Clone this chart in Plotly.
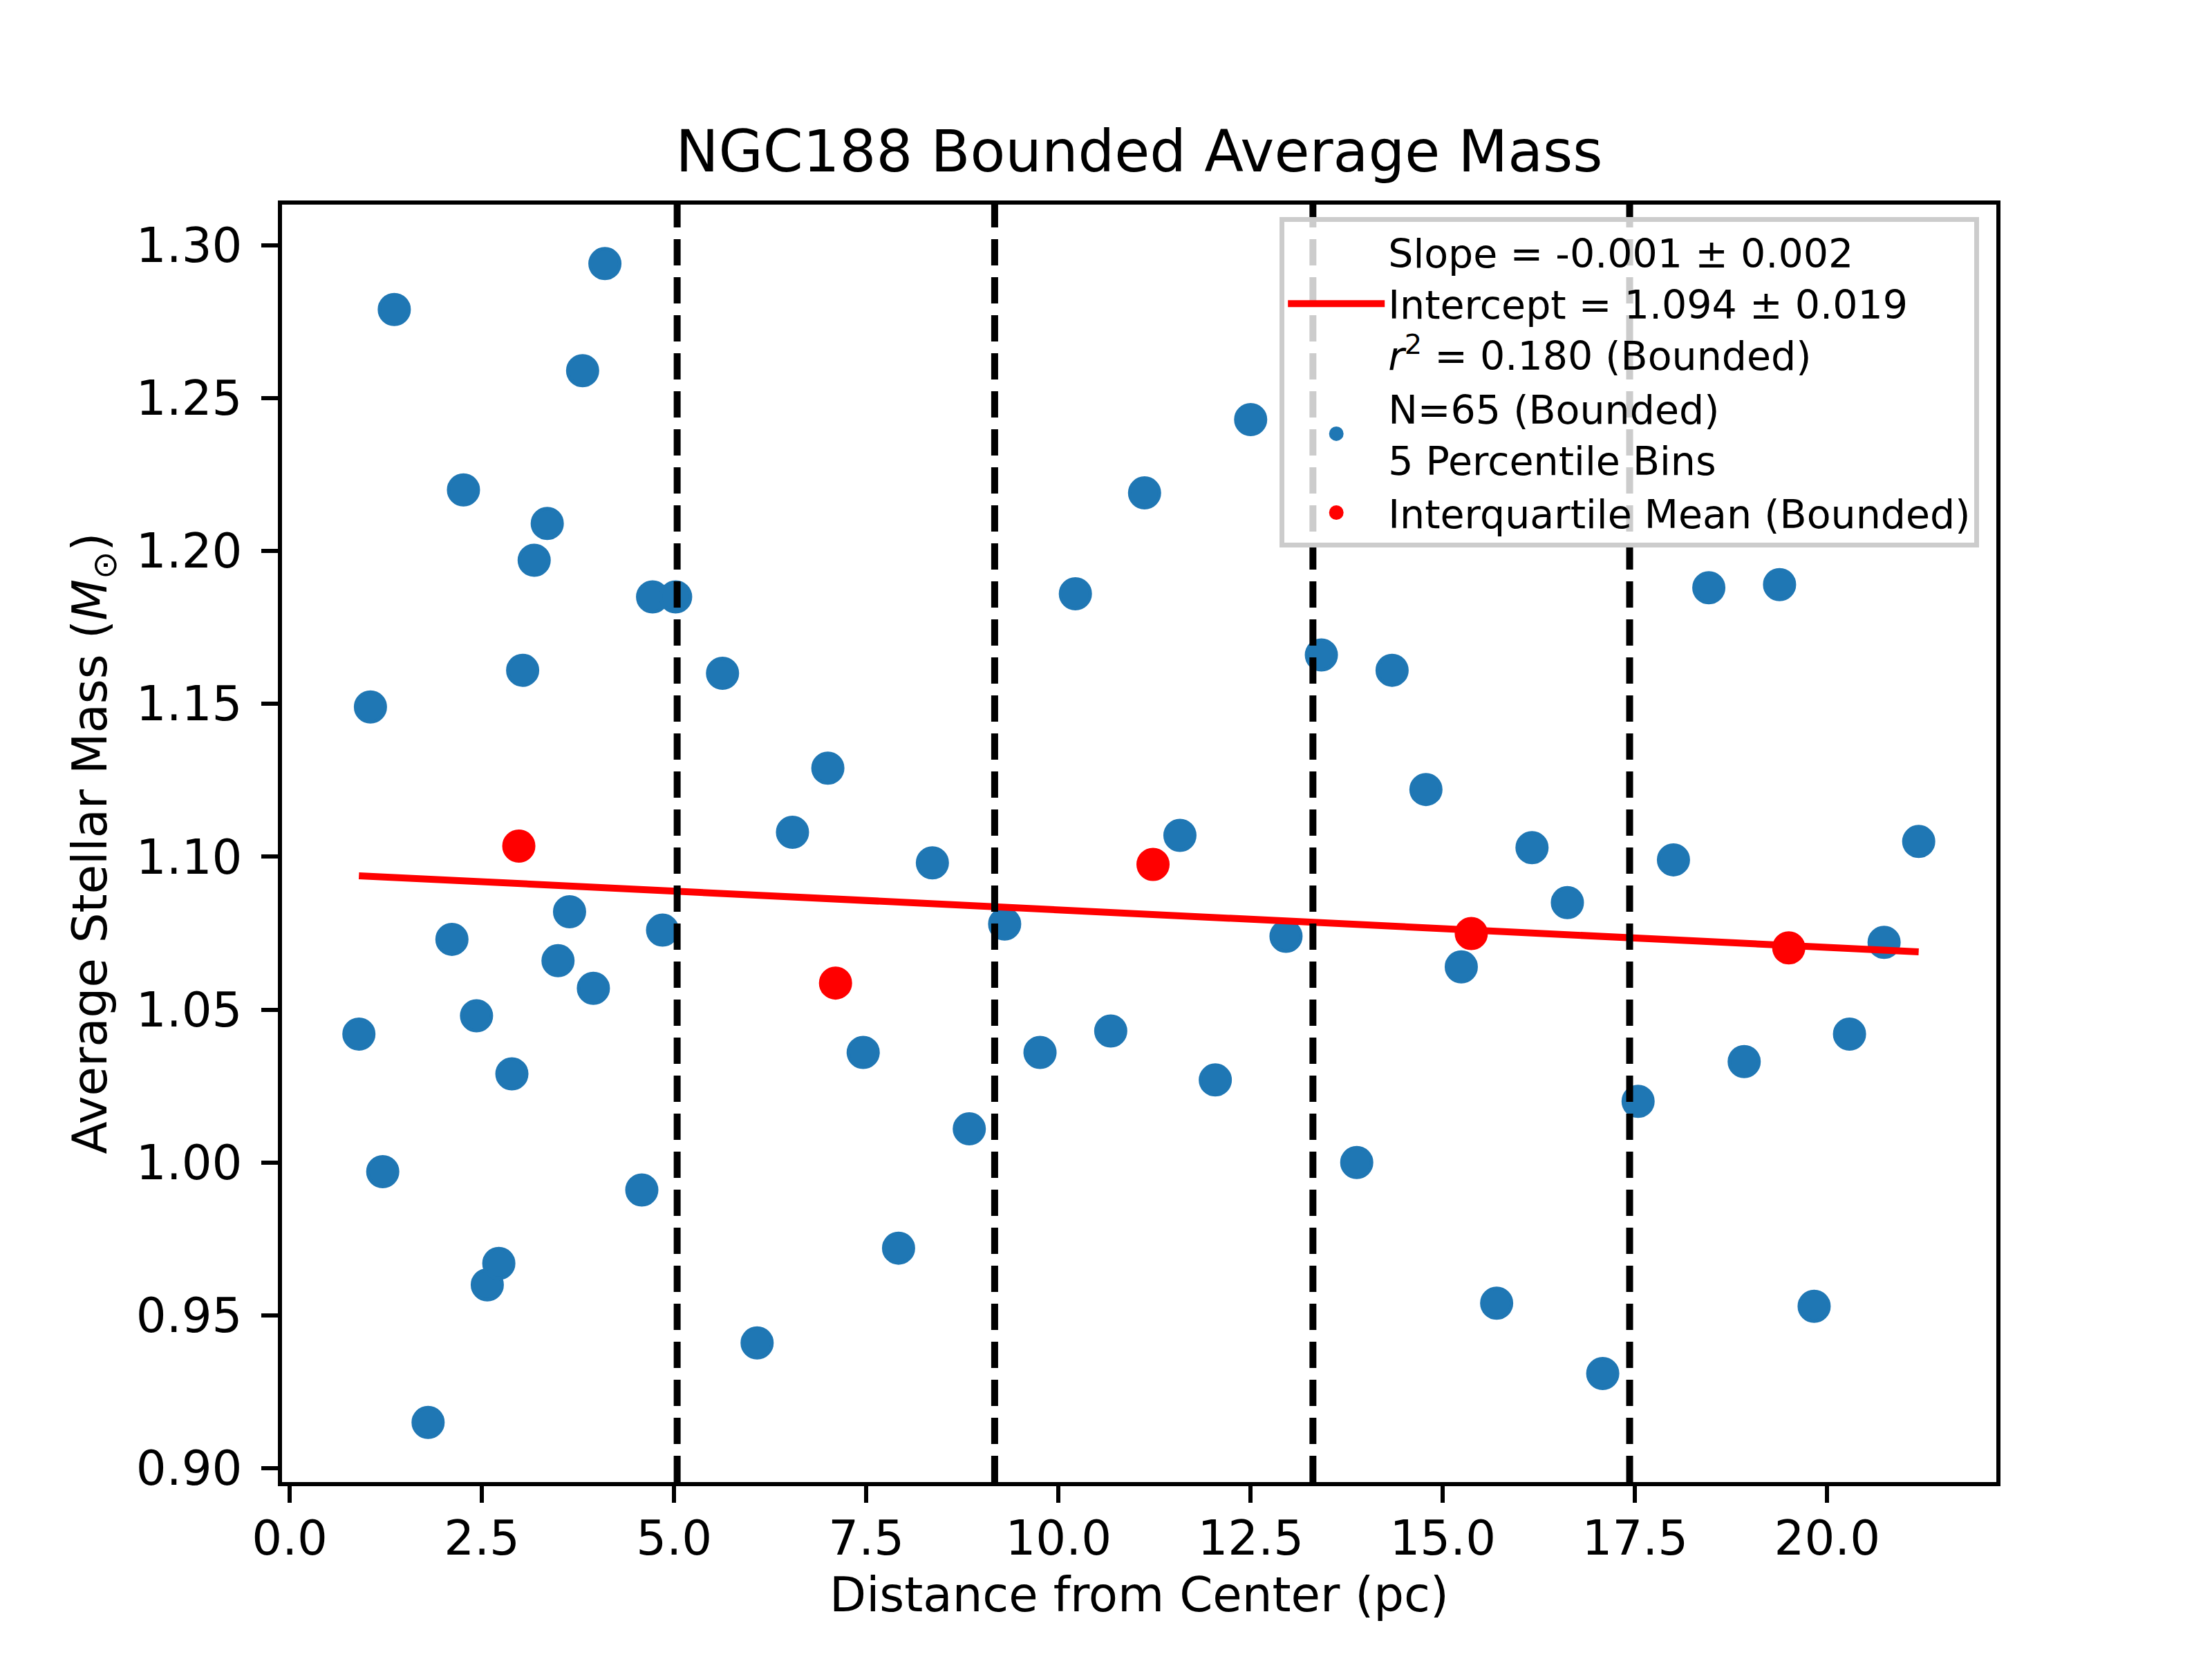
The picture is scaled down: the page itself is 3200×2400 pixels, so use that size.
"""
NGC188 bounded average stellar mass vs. distance from the cluster centre,
with percentile-bin edges, interquartile means and a linear fit.
Writes out.html.
"""

import plotly.graph_objects as go

OUT = "out.html"

BLUE, RED = "#1f77b4", "#ff0000"
FONT = "DejaVu Sans"

# per-star-bin average mass (bounded sample)
dist_pc = [0.90, 1.05, 1.21, 1.36, 1.80, 2.11, 2.26, 2.43, 2.57, 2.72,
           2.89, 3.03, 3.18, 3.35, 3.49, 3.64, 3.81, 3.95, 4.10, 4.58,
           4.72, 4.85, 5.02, 5.63, 6.08, 6.54, 7.00, 7.46, 7.92, 8.36,
           8.84, 9.30, 9.76, 10.22, 10.68, 11.12, 11.58, 12.04, 12.50, 12.96,
           13.42, 13.88, 14.34, 14.78, 15.24, 15.70, 16.16, 16.62, 17.08,
           17.54, 18.00, 18.46, 18.92, 19.38, 19.83, 20.29, 20.74, 21.19]
avg_mass = [1.042, 1.149, 0.997, 1.279, 0.915, 1.073, 1.220, 1.048, 0.960, 0.967,
            1.029, 1.161, 1.197, 1.209, 1.066, 1.082, 1.259, 1.057, 1.294, 0.991,
            1.185, 1.076, 1.185, 1.160, 0.941, 1.108, 1.129, 1.036, 0.972, 1.098,
            1.011, 1.078, 1.036, 1.186, 1.043, 1.219, 1.107, 1.027, 1.243, 1.074,
            1.166, 1.000, 1.161, 1.122, 1.064, 0.954, 1.103, 1.085, 0.931,
            1.020, 1.099, 1.188, 1.033, 1.189, 0.953, 1.042, 1.072, 1.105]

# interquartile mean per percentile bin
iqm_dist = [2.98, 7.10, 11.23, 15.37, 19.50]
iqm_mass = [1.1035, 1.0587, 1.0975, 1.0749, 1.0702]

# percentile bin edges
bin_edges = [5.04, 9.17, 13.31, 17.43]

# linear fit, drawn across the data range
fit_x = [0.90, 21.19]
fit_y = [1.0938, 1.0689]

FIT_LABEL = ("Slope = -0.001 ± 0.002<br>Intercept = 1.094 ± 0.019<br>"
             "<i>r</i><sup>2</sup> = 0.180 (Bounded)")
DATA_LABEL = "N=65 (Bounded)<br>5 Percentile Bins"
IQM_LABEL = "Interquartile Mean (Bounded)"

# edge line in the face colour, so the plotted dots come out ~48px across
fig = go.Figure()
fig.add_trace(go.Scatter(x=dist_pc, y=avg_mass, mode="markers", name=DATA_LABEL,
                         legendrank=2,
                         marker=dict(color=BLUE, size=43,
                                     line=dict(width=5, color=BLUE))))
fig.add_trace(go.Scatter(x=iqm_dist, y=iqm_mass, mode="markers", name=IQM_LABEL,
                         legendrank=3,
                         marker=dict(color=RED, size=43,
                                     line=dict(width=5, color=RED))))
fig.add_trace(go.Scatter(x=fit_x, y=fit_y, mode="lines", name=FIT_LABEL,
                         legendrank=1, line=dict(color=RED, width=10)))

for edge in bin_edges:
    fig.add_vline(x=edge, line=dict(color="black", width=10, dash="38px,17px"))

axis_common = dict(showgrid=False, zeroline=False, ticks="outside", ticklen=24,
                   tickwidth=5.5, tickcolor="black", showline=True,
                   linecolor="black", linewidth=5.5, mirror=True,
                   tickfont=dict(family=FONT, size=69, color="black"))

fig.update_xaxes(range=[-0.1, 22.2], tick0=0, dtick=2.5, tickformat=".1f",
                 ticklabelstandoff=-8,
                 title=dict(text="Distance from Center (pc)", standoff=21,
                            font=dict(family=FONT, size=69, color="black")),
                 **axis_common)
fig.update_yaxes(range=[0.8955, 1.3133], tick0=0.9, dtick=0.05, tickformat=".2f",
                 ticklabelstandoff=14,
                 title=dict(text="Average Stellar Mass (<i>M</i><sub>⊙</sub>)",
                            standoff=22,
                            font=dict(family=FONT, size=69, color="black")),
                 **axis_common)

fig.update_layout(
    width=3200, height=2400,
    margin=dict(l=400, r=320, t=288, b=264, autoexpand=False),
    paper_bgcolor="white", plot_bgcolor="white",
    font=dict(family=FONT, size=69, color="black"),
    title=dict(text="NGC188 Bounded Average Mass", x=0.5, xref="paper",
               xanchor="center", y=1, yref="paper", yanchor="bottom",
               pad=dict(b=48), font=dict(family=FONT, size=83, color="black")),
    legend=dict(x=0.99, y=0.99, xanchor="right", yanchor="top",
                bgcolor="rgba(255,255,255,0.8)", bordercolor="#cccccc",
                borderwidth=7, itemwidth=140, tracegroupgap=0,
                font=dict(family=FONT, size=57, color="black")),
)

fig.write_html(OUT)
